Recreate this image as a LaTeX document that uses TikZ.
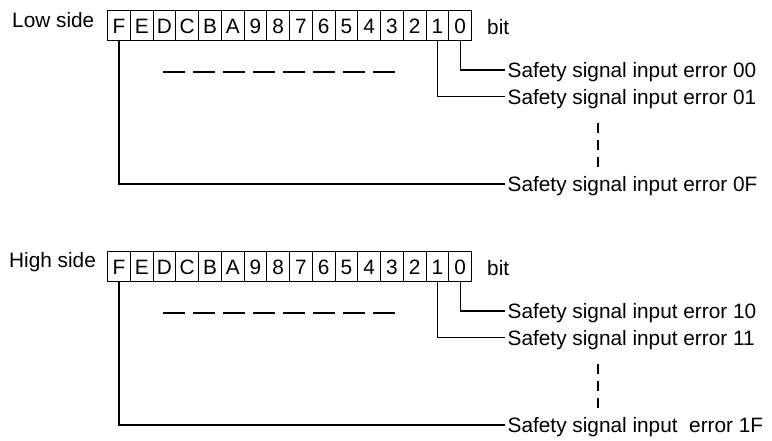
\documentclass[tikz,border=0pt]{standalone}
\usepackage{fontspec}
\setmainfont{Liberation Sans}
\begin{document}
\begin{tikzpicture}[x=1pt,y=-1pt,
  txt/.style={inner sep=0pt, text height=15pt, text depth=0pt, font=\fontsize{20.8}{25}\selectfont},
  bitbox/.style={txt, draw, line width=1.2pt, minimum width=22.75pt, minimum height=30pt, anchor=north west},
  lbl/.style={txt, anchor=west},
  errlbl/.style={lbl, inner xsep=2.5pt},
  lead/.style={line width=1.2pt},
  dashh/.style={line width=1.6pt, dash pattern=on 22pt off 8pt},
  dashv/.style={line width=1.6pt, dash pattern=on 10pt off 7pt}]
\useasboundingbox (0,0) rectangle (772,441);
\foreach \g/\yy in {L/10, H/251} {
  \foreach \c [count=\i from 0] in {F,E,D,C,B,A,9,8,7,6,5,4,3,2,1,0} {
    \node[bitbox] (\g\c) at ({107+\i*22.75}, \yy) {\c};
  }
}
% Low side
\node[lbl] (lowlbl) at (12,20) {Low side};
\node[lbl] (lowbit) at (487,27) {bit};
\node[errlbl] (e00) at (505,70) {Safety signal input error 00};
\node[errlbl] (e01) at (505,96.7) {Safety signal input error 01};
\node[errlbl] (e0F) at (505,184) {Safety signal input error 0F};
\draw[lead] (L0.south) |- (e00.west);
\draw[lead] (L1.south) |- (e01.west);
\draw[lead] (LF.south) |- (e0F.west);
\coordinate (lh1) at (163,72);
\coordinate (lh2) at (395,72);
\draw[dashh] (lh1) -- (lh2);
\coordinate (lv1) at (598,123);
\coordinate (lv2) at (598,167);
\draw[dashv] (lv1) -- (lv2);
% High side
\node[lbl] (highlbl) at (9,260) {High side};
\node[lbl] (highbit) at (487,268) {bit};
\node[errlbl] (e10) at (505,311) {Safety signal input error 10};
\node[errlbl] (e11) at (505,337.7) {Safety signal input error 11};
\node[errlbl] (e1F) at (505,425) {Safety signal input\ \ error 1F};
\draw[lead] (H0.south) |- (e10.west);
\draw[lead] (H1.south) |- (e11.west);
\draw[lead] (HF.south) |- (e1F.west);
\coordinate (hh1) at (163,313);
\coordinate (hh2) at (395,313);
\draw[dashh] (hh1) -- (hh2);
\coordinate (hv1) at (598,364);
\coordinate (hv2) at (598,408);
\draw[dashv] (hv1) -- (hv2);
\end{tikzpicture}
\end{document}
